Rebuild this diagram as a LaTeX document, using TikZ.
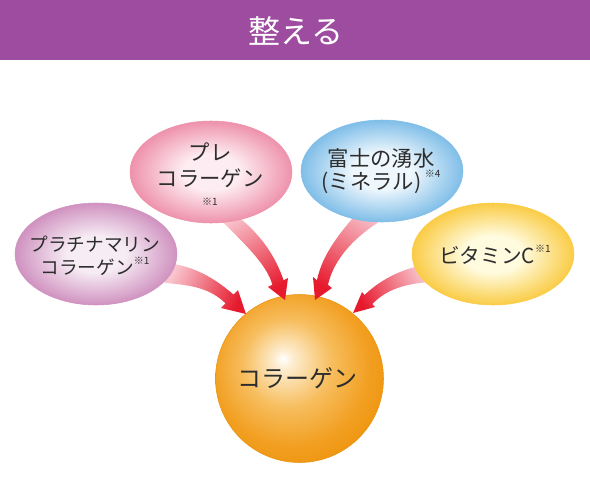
\documentclass[tikz,border=0pt]{standalone}
\usepackage{fontspec}
\newfontfamily\jp{Noto Sans CJK JP}
\usetikzlibrary{shapes.geometric}
\definecolor{hdr}{RGB}{158,76,160}
\definecolor{txt}{RGB}{45,45,45}
\definecolor{purpC}{RGB}{246,236,244}
\definecolor{purpE}{RGB}{208,146,192}
\definecolor{pinkC}{RGB}{253,236,241}
\definecolor{pinkE}{RGB}{238,146,172}
\definecolor{blueC}{RGB}{238,247,253}
\definecolor{blueE}{RGB}{128,190,232}
\definecolor{yelC}{RGB}{255,251,222}
\definecolor{yelE}{RGB}{250,204,70}
\definecolor{orA}{RGB}{253,236,205}
\definecolor{orB}{RGB}{247,190,95}
\definecolor{orC}{RGB}{242,160,35}
\definecolor{orD}{RGB}{237,146,10}
\definecolor{alight}{RGB}{248,196,205}
\definecolor{ared}{RGB}{230,25,45}
\pgfdeclareradialshading{purpsh}{\pgfpoint{0bp}{0bp}}{color(0bp)=(purpC); color(9bp)=(purpC); color(25bp)=(purpE); color(50bp)=(purpE)}
\pgfdeclareradialshading{pinksh}{\pgfpoint{0bp}{0bp}}{color(0bp)=(pinkC); color(9bp)=(pinkC); color(25bp)=(pinkE); color(50bp)=(pinkE)}
\pgfdeclareradialshading{bluesh}{\pgfpoint{0bp}{0bp}}{color(0bp)=(blueC); color(9bp)=(blueC); color(25bp)=(blueE); color(50bp)=(blueE)}
\pgfdeclareradialshading{yelsh}{\pgfpoint{0bp}{0bp}}{color(0bp)=(yelC); color(9bp)=(yelC); color(25bp)=(yelE); color(50bp)=(yelE)}
\pgfdeclareradialshading{orangeball}{\pgfpoint{-5bp}{6bp}}{color(0bp)=(white); color(3bp)=(orA); color(13bp)=(orB); color(23bp)=(orC); color(31bp)=(orD); color(50bp)=(orD)}
\newcommand\supmark[1]{\raisebox{0.55em}{\fontsize{7.5pt}{7.5pt}\selectfont #1}}
\tikzset{
  blob/.style={ellipse, minimum width=121.5pt, minimum height=76.5pt, inner sep=0pt, shade},
  lbl/.style={text=txt, align=center, inner sep=0pt},
  arr/.style={left color=alight, right color=ared}
}
\begin{document}
\begin{tikzpicture}[x=0.75pt,y=-0.75pt]
\useasboundingbox (0,0) rectangle (590,486);
\fill[hdr] (0,0) rectangle (590,60);
\node[text=white, font=\jp\fontsize{24pt}{24pt}\selectfont] (title) at (296,31) {整える};
% central ball
\node[circle, minimum size=126pt, inner sep=0pt, shade, shading=orangeball, draw=orD, line width=0.4pt] (col) at (299.5,378.5) {};
\node[lbl, font=\jp\fontsize{18pt}{18pt}\selectfont] (tcol) at (297,378) {コラーゲン};
% arrows
\shade[arr, shading angle=63] (165,263) .. controls (195,265) and (218,281) .. (233.5,294.6) -- (238,290) -- (246,314) -- (221,308) -- (225.5,303.4) .. controls (211,289) and (193,285) .. (165,283) -- cycle;
\shade[arr, shading angle=32] (213,212) .. controls (240,240) and (266,262) .. (272.4,284.7) -- (268,287) -- (285,300) -- (288,278) -- (283.6,280.3) .. controls (276,258) and (262,234) .. (232,212) -- cycle;
\shade[arr, shading angle=-30] (360,210) .. controls (340,232) and (322,255) .. (317,280.2) -- (313,277) -- (315,300) -- (332,288) -- (328,284.8) .. controls (333,262) and (352,235) .. (396,212) -- cycle;
\shade[arr, shading angle=-61] (430,264) .. controls (400,268) and (378,282) .. (364.6,295) -- (362,292) -- (353,313) -- (375,307) -- (372.4,304) .. controls (384,292) and (400,284) .. (430,282) -- cycle;
% ellipses
\node[blob, shading=purpsh, draw=purpE, line width=0.4pt] (purp) at (96,254) {};
\node[blob, shading=pinksh, draw=pinkE, line width=0.4pt] (pink) at (211,172) {};
\node[blob, shading=bluesh, draw=blueE, line width=0.4pt] (blue) at (382,171) {};
\node[blob, shading=yelsh, draw=yelE, line width=0.4pt] (yel) at (493,254) {};
\node[lbl, font=\jp\fontsize{14pt}{17.5pt}\selectfont] (tpurp) at (95,256) {プラチナマリン\\コラーゲン\supmark{※1}};
\node[lbl, font=\jp\fontsize{16pt}{20pt}\selectfont] (tpink) at (210,174) {プレ\\コラーゲン\\[-6pt]{\fontsize{7.5pt}{8pt}\selectfont ※1}};
\node[lbl, font=\jp\fontsize{16pt}{17pt}\selectfont] (tblue) at (381,171) {富士の湧水\\(ミネラル)\,\supmark{※4}};
\node[lbl, font=\jp\fontsize{15.5pt}{17pt}\selectfont] (tyel) at (495,255) {ビタミンC\supmark{※1}};
\end{tikzpicture}
\end{document}
